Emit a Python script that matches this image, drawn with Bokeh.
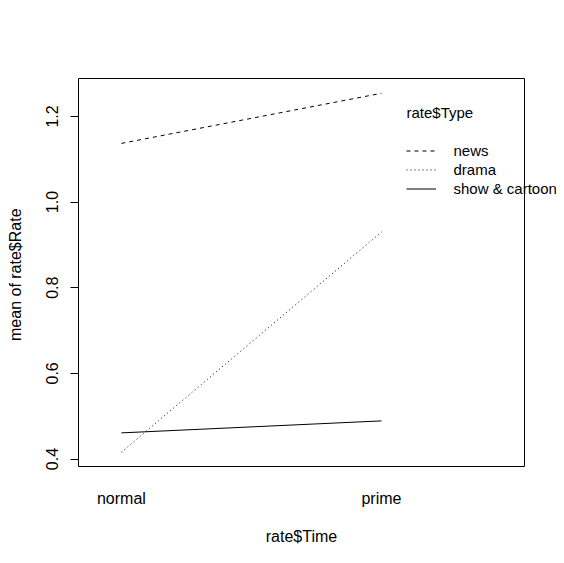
from bokeh.plotting import figure
from bokeh.models import (FixedTicker, PrintfTickFormatter, Legend, LegendItem, Range1d,
                          ColumnDataSource)
from bokeh.core.properties import value
from bokeh.embed import file_html
from bokeh.resources import INLINE

# Data
time_levels = ["normal", "prime"]
time_pos = [1, 2]
legend_title = "rate$Type"
type_levels = ["news", "drama", "show & cartoon"]
news = [1.137, 1.254]
drama = [0.416, 0.930]
show_cartoon = [0.461, 0.489]
y_ticks = [0.4, 0.6, 0.8, 1.0, 1.2]

# plotting region limits (R pads the data range by 4 %)
box_x = (0.835, 2.55)
box_y = (0.3825, 1.2885)

FONT = "Liberation Sans"
FS = "16px"
LFS = "15px"

p = figure(frame_width=446, frame_height=388, output_backend="svg", toolbar_location=None,
           min_border_left=78, min_border_right=32, min_border_top=78, min_border_bottom=81,
           x_range=Range1d(*box_x), y_range=Range1d(*box_y))
p.background_fill_color = "white"
p.border_fill_color = "white"
p.outline_line_color = "black"
p.outline_line_width = 1
p.grid.visible = False

r_news = p.line(time_pos, news, line_color="black", line_width=1, line_dash="4 4")
r_drama = p.line(time_pos, drama, line_color="black", line_width=1, line_dash="1 3")
r_show = p.line(time_pos, show_cartoon, line_color="black", line_width=1)

# x axis
xa = p.xaxis[0]
xa.ticker = FixedTicker(ticks=time_pos)
xa.major_label_overrides = {1: time_levels[0], 2: time_levels[1]}
xa.axis_line_color = None
xa.major_tick_line_color = None
xa.minor_tick_line_color = None
xa.major_label_standoff = 17
xa.axis_label = "rate$Time"
xa.axis_label_standoff = 18
xa.axis_label_text_font_style = "normal"

# y axis
ya = p.yaxis[0]
ya.ticker = FixedTicker(ticks=y_ticks)
ya.formatter = PrintfTickFormatter(format="%.1f")
ya.axis_line_color = None
ya.minor_tick_line_color = None
ya.major_tick_out = 8
ya.major_tick_in = 0
ya.major_label_orientation = "vertical"
ya.major_label_standoff = 12
ya.axis_label = "mean of  rate$Rate"
ya.axis_label_standoff = 20
ya.axis_label_text_font_style = "normal"

for ax in (xa, ya):
    ax.major_label_text_font = FONT
    ax.major_label_text_font_size = FS
    ax.major_label_text_color = "black"
    ax.axis_label_text_font = FONT
    ax.axis_label_text_font_size = FS
    ax.axis_label_text_color = "black"

# legend line samples
legend = Legend(items=[LegendItem(label=type_levels[0], renderers=[r_news]),
                       LegendItem(label=type_levels[1], renderers=[r_drama]),
                       LegendItem(label=type_levels[2], renderers=[r_show])],
                location=(328, 268))
legend.margin = 0
legend.padding = 0
legend.border_line_color = None
legend.background_fill_alpha = 0
legend.label_text_font_size = "1px"
legend.label_text_alpha = 0
legend.glyph_width = 30
legend.glyph_height = 19
legend.label_height = 19
legend.label_standoff = 16
legend.spacing = 0
p.add_layout(legend, "center")

# legend texts: anchored at the box's top-left corner, offset in pixels,
# drawn on the overlay level so they may run past the box edge
leg_src = ColumnDataSource(dict(
    x=[box_x[0]] * 4,
    y=[box_y[1]] * 4,
    text=[legend_title] + type_levels,
    dx=[328, 375, 375, 375],
    dy=[34, 72, 91, 110],
))
p.text(x="x", y="y", text="text", x_offset="dx", y_offset="dy", source=leg_src,
       text_font=value(FONT), text_font_size=LFS, text_color="black",
       text_align="left", text_baseline="middle", level="overlay")

open("out.html", "w").write(file_html(p, INLINE))
